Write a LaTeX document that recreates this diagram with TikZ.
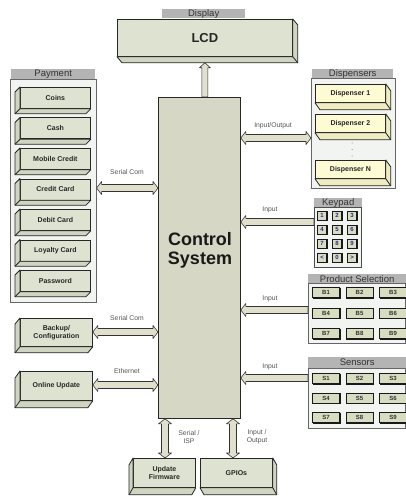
\documentclass[tikz,border=0pt]{standalone}
\usepackage{fontspec}
\setmainfont{Liberation Sans}
\usetikzlibrary{calc}
\definecolor{boxfill}{RGB}{222,227,209}
\definecolor{boxside}{RGB}{208,213,193}
\definecolor{ctrlfill}{RGB}{214,215,196}
\definecolor{dispfill}{RGB}{252,251,212}
\definecolor{dispside}{RGB}{238,236,192}
\definecolor{panelfill}{RGB}{242,244,242}
\definecolor{hdrfill}{RGB}{180,180,180}
\definecolor{arrfill}{RGB}{224,224,204}
\definecolor{btnfill}{RGB}{216,220,192}
\definecolor{keyblue}{RGB}{40,40,150}
\definecolor{lblgray}{RGB}{85,85,85}
\tikzset{
 face/.style={draw=black!85, line width=0.8pt, fill=boxfill, inner sep=0pt, align=center,
   font=\bfseries\fontsize{7}{8}\selectfont, text=black!85},
 dispface/.style={face, fill=dispfill},
 side/.style={draw=black!85, line width=0.8pt, fill=boxside, line join=round},
 panel/.style={draw=black!60, line width=0.6pt, fill=panelfill, inner sep=0pt},
 hdr/.style={fill=hdrfill, inner sep=0pt, font=\fontsize{9.5}{9.5}\selectfont, text=black!80},
 arr/.style={draw=black!80, line width=0.6pt, fill=arrfill, line join=round},
 lbl/.style={font=\fontsize{6.8}{7.8}\selectfont, text=lblgray, align=center, inner sep=0pt},
 btn/.style={draw=black!90, line width=0.7pt, fill=btnfill, inner sep=0pt,
   font=\bfseries\fontsize{6}{6}\selectfont, text=black!80},
 keybtn/.style={btn, minimum width=9pt, minimum height=9pt, text=keyblue},
 selbtn/.style={btn, minimum width=27pt, minimum height=10pt},
}
% depth polygons
\newcommand\dleft[4]{%
 \draw[side,fill=#4] (#1.north west) -- ++(-#2,#3) -- ($(#1.south west)+(-#2,#3)$) -- ($(#1.south east)+(-#2,#3)$) -- (#1.south east) -- (#1.south west) -- cycle;
 \draw[side] (#1.south west) -- ++(-#2,#3);}
\newcommand\dright[4]{%
 \draw[side,fill=#4] (#1.north east) -- ++(#2,#3) -- ($(#1.south east)+(#2,#3)$) -- ($(#1.south west)+(#2,#3)$) -- (#1.south west) -- (#1.south east) -- cycle;
 \draw[side] (#1.south east) -- ++(#2,#3);}
\newcommand\btnshadow[1]{\draw[black!90, line width=1.3pt] ($(#1.north east)+(0.3pt,-0.5pt)$) -- ($(#1.south east)+(0.3pt,-0.3pt)$) -- ($(#1.south west)+(0.5pt,-0.3pt)$);}
% fat arrows (first coordinate left/top)
\newcommand\hdbl[2]{\path[arr] let \p1=(#1), \p2=(#2) in
 (\x1,\y1) -- (\x1+5pt,\y1+6.5pt) -- (\x1+5pt,\y1+3.5pt) -- (\x2-5pt,\y1+3.5pt) -- (\x2-5pt,\y1+6.5pt)
 -- (\x2,\y1) -- (\x2-5pt,\y1-6.5pt) -- (\x2-5pt,\y1-3.5pt) -- (\x1+5pt,\y1-3.5pt) -- (\x1+5pt,\y1-6.5pt) -- cycle;}
\newcommand\hleft[2]{\path[arr] let \p1=(#1), \p2=(#2) in
 (\x1,\y1) -- (\x1+5pt,\y1+6.5pt) -- (\x1+5pt,\y1+3.5pt) -- (\x2,\y1+3.5pt)
 -- (\x2,\y1-3.5pt) -- (\x1+5pt,\y1-3.5pt) -- (\x1+5pt,\y1-6.5pt) -- cycle;}
\newcommand\vdbl[2]{\path[arr] let \p1=(#1), \p2=(#2) in
 (\x1,\y1) -- (\x1+6.5pt,\y1-5pt) -- (\x1+3.5pt,\y1-5pt) -- (\x1+3.5pt,\y2+5pt) -- (\x1+6.5pt,\y2+5pt)
 -- (\x1,\y2) -- (\x1-6.5pt,\y2+5pt) -- (\x1-3.5pt,\y2+5pt) -- (\x1-3.5pt,\y1-5pt) -- (\x1-6.5pt,\y1-5pt) -- cycle;}
\newcommand\vup[2]{\path[arr] let \p1=(#1), \p2=(#2) in
 (\x1,\y1) -- (\x1+5.5pt,\y1-5pt) -- (\x1+3pt,\y1-5pt) -- (\x1+3pt,\y2)
 -- (\x1-3pt,\y2) -- (\x1-3pt,\y1-5pt) -- (\x1-5.5pt,\y1-5pt) -- cycle;}

\begin{document}
\begin{tikzpicture}[x=1pt,y=-1pt]
\useasboundingbox[fill=white] (0,0) rectangle (406,497);

% ---------- Display ----------
\node[hdr, minimum width=83pt, minimum height=9pt, anchor=north west] (disphdr) at (162,9) {Display};
\node[face, minimum width=175pt, minimum height=37pt, anchor=north west,
  font=\bfseries\fontsize{13}{14}\selectfont] (lcd) at (117,19) {LCD};
\dright{lcd}{5}{6}{boxside}

% ---------- Control ----------
\node[draw=black!85, line width=0.8pt, fill=ctrlfill, minimum width=82pt, minimum height=321pt,
  anchor=north west, inner sep=0pt] (ctrl) at (158,97) {};
\node[font=\bfseries\fontsize{18}{19}\selectfont, align=center, text=black!90] (ctrltxt) at (200,250) {Control\\System};

\coordinate (lcdb) at ($(lcd.south)+(0,6)$);
\vup{lcdb}{ctrl.north}

% ---------- Payment ----------
\node[hdr, minimum width=84pt, minimum height=10pt, anchor=north west] (payhdr) at (11,69) {Payment};
\node[panel, minimum width=86pt, minimum height=223pt, anchor=north west] (pay) at (10,79) {};
\foreach \t [count=\i] in {Coins,Cash,Mobile Credit,Credit Card,Debit Card,Loyalty Card,Password}{
  \node[face, minimum width=70pt, minimum height=21pt, anchor=north west] (p\i) at (20,{87+30.5*(\i-1)}) {\t};
  \dleft{p\i}{5}{5}{boxside}
}
\coordinate (payR) at (pay.east |- 0,188);
\coordinate (ctrlPay) at (ctrl.west |- 0,188);
\hdbl{payR}{ctrlPay}
\node[lbl] (lpay) at (127,172) {Serial Com};

% ---------- Dispensers ----------
\node[hdr, minimum width=81pt, minimum height=9pt, anchor=north west] (dsphdr) at (312,69) {Dispensers};
\node[panel, minimum width=84pt, minimum height=110pt, anchor=north west] (dsp) at (311,78) {};
\node[dispface, minimum width=70pt, minimum height=18pt, anchor=north west] (d1) at (315,84) {Dispenser 1};
\dright{d1}{5}{7}{dispside}
\node[dispface, minimum width=70pt, minimum height=18pt, anchor=north west] (d2) at (315,114) {Dispenser 2};
\dright{d2}{5}{7}{dispside}
\node[dispface, minimum width=70pt, minimum height=18pt, anchor=north west] (dn) at (315,160) {Dispenser N};
\dright{dn}{5}{7}{dispside}
\foreach \yy in {143,149.5,156} \fill[black!60] (352,\yy) circle (0.5pt);
\coordinate (ctrlDsp) at (ctrl.east |- 0,138);
\coordinate (dspL) at (dsp.west |- 0,138);
\hdbl{ctrlDsp}{dspL}
\node[lbl] (ldsp) at (273,126) {Input/Output};

% ---------- Keypad ----------
\node[hdr, minimum width=48pt, minimum height=9pt, anchor=north west] (keyhdr) at (314,198) {Keypad};
\node[panel, draw=black!70, minimum width=47pt, minimum height=60pt, anchor=north west] (key) at (314,207) {};
\foreach \lab [count=\i from 0] in {1,2,3,4,5,6,7,8,9,<,0,>}{
  \pgfmathtruncatemacro\col{mod(\i,3)}
  \pgfmathtruncatemacro\row{int(\i/3)}
  \node[keybtn] (k\i) at ({322+15*\col},{215.5+14*\row}) {\lab};
  \btnshadow{k\i}
}
\coordinate (ctrlKey) at (ctrl.east |- 0,222);
\coordinate (keyL) at (key.west |- 0,222);
\hleft{ctrlKey}{keyL}
\node[lbl] (lkey) at (270,210) {Input};

% ---------- Product Selection ----------
\node[hdr, minimum width=98pt, minimum height=9pt, anchor=north west] (prodhdr) at (308,274) {Product Selection};
\node[panel, minimum width=97pt, minimum height=60pt, anchor=north west] (prod) at (308,283) {};
\foreach \i in {1,...,9}{
  \pgfmathtruncatemacro\col{mod(\i-1,3)}
  \pgfmathtruncatemacro\row{int((\i-1)/3)}
  \node[selbtn] (b\i) at ({326+33.5*\col},{292.5+20.5*\row}) {B\i};
  \btnshadow{b\i}
}
\coordinate (ctrlProd) at (ctrl.east |- 0,310);
\coordinate (prodL) at (prod.west |- 0,310);
\hleft{ctrlProd}{prodL}
\node[lbl] (lprod) at (270,299) {Input};

% ---------- Sensors ----------
\node[hdr, minimum width=98pt, minimum height=11pt, anchor=north west] (senshdr) at (308,357) {Sensors};
\node[panel, minimum width=97pt, minimum height=60pt, anchor=north west] (sens) at (308,368) {};
\foreach \i in {1,...,9}{
  \pgfmathtruncatemacro\col{mod(\i-1,3)}
  \pgfmathtruncatemacro\row{int((\i-1)/3)}
  \node[selbtn] (s\i) at ({326+33.5*\col},{378.5+19.5*\row}) {S\i};
  \btnshadow{s\i}
}
\coordinate (ctrlSens) at (ctrl.east |- 0,378);
\coordinate (sensL) at (sens.west |- 0,378);
\hleft{ctrlSens}{sensL}
\node[lbl] (lsens) at (270,367) {Input};

% ---------- Backup / Online Update ----------
\node[face, minimum width=72pt, minimum height=28pt, anchor=north west] (bk) at (20,318) {Backup/\\Configuration};
\dleft{bk}{5}{6}{boxside}
\node[face, minimum width=72pt, minimum height=29pt, anchor=north west] (ou) at (20,371) {Online Update};
\dleft{ou}{5}{7}{boxside}
\coordinate (ctrlBk) at (ctrl.west |- 0,332);
\coordinate (bkR) at (bk.east |- 0,332);
\hdbl{bkR}{ctrlBk}
\node[lbl] (lbk) at (127,318) {Serial Com};
\coordinate (ctrlOu) at (ctrl.west |- 0,385);
\coordinate (ouR) at (ou.east |- 0,385);
\hdbl{ouR}{ctrlOu}
\node[lbl] (lou) at (127,371) {Ethernet};

% ---------- Bottom ----------
\node[face, minimum width=62pt, minimum height=29pt, anchor=north west] (fw) at (133,458) {Update\\Firmware};
\dleft{fw}{4}{7}{boxside}
\node[face, minimum width=72pt, minimum height=29pt, anchor=north west] (gp) at (200,458) {GPIOs};
\dright{gp}{4}{7}{boxside}
\coordinate (ctrlFw) at (ctrl.south -| 165,0);
\coordinate (fwT) at (fw.north -| 165,0);
\vdbl{ctrlFw}{fwT}
\coordinate (ctrlGp) at (ctrl.south -| 233,0);
\coordinate (gpT) at (gp.north -| 233,0);
\vdbl{ctrlGp}{gpT}
\node[lbl] (lfw) at (189,437) {Serial /\\ISP};
\node[lbl] (lgp) at (257,437) {Input /\\Output};
\end{tikzpicture}
\end{document}
